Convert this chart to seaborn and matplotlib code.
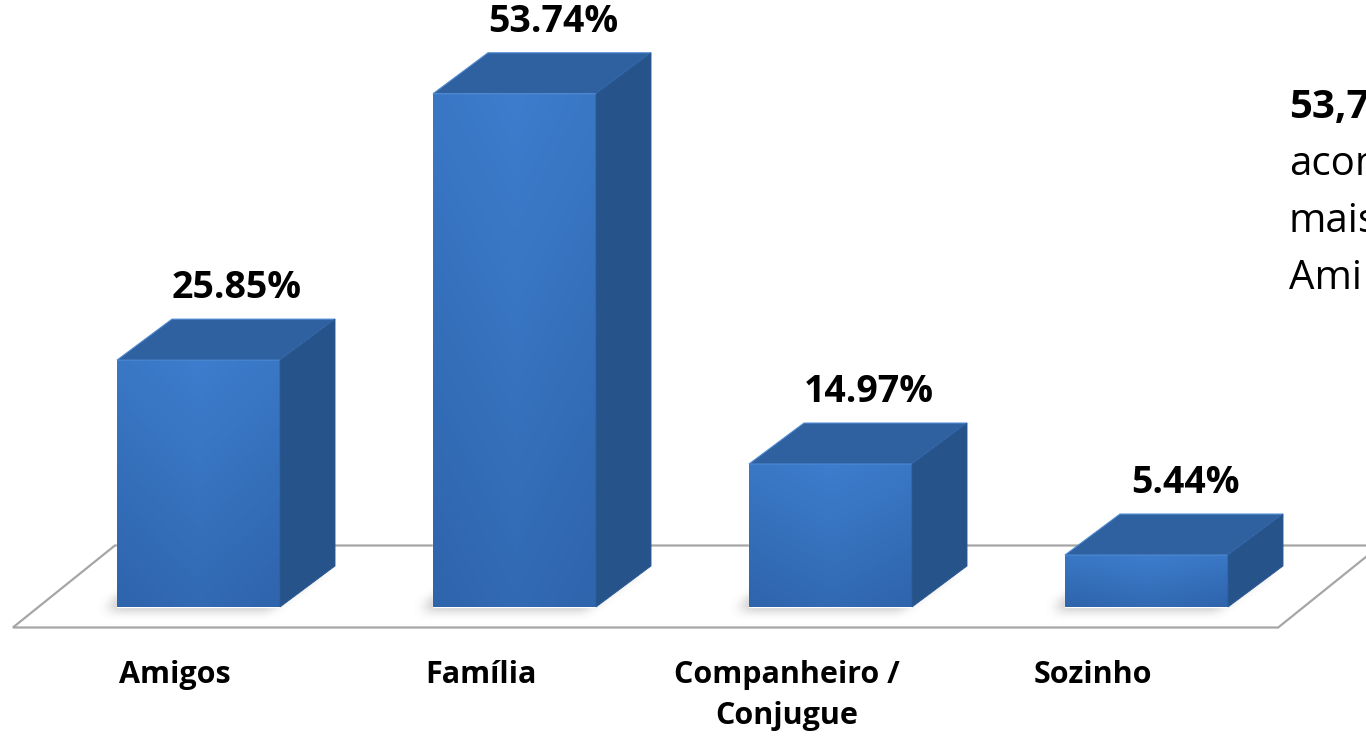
import numpy as np
import pandas as pd
import matplotlib
matplotlib.use('Agg')
import matplotlib.pyplot as plt
import seaborn as sns
from matplotlib.patches import Polygon
from matplotlib.colors import LinearSegmentedColormap

## Data ##
categories = ['Amigos', 'Família', 'Companheiro /\nConjugue', 'Sozinho']
values = [25.85, 53.74, 14.97, 5.44]
value_labels = ['25.85%', '53.74%', '14.97%', '5.44%']
side_lines = ['53,7', 'acom', 'mais', 'Ami']

df = pd.DataFrame({'cat': categories, 'val': values})

sns.set_style('white')
plt.rcParams['font.family'] = ['Open Sans', 'DejaVu Sans']

fig = plt.figure(figsize=(13.66, 7.4), dpi=100)
ax = fig.add_axes([0, 0, 1, 1])

sns.barplot(data=df, x='cat', y='val', color='#3571bd', width=0.516,
            saturation=1, ax=ax, zorder=3)

# pixel -> data scales (316 px per category, 9.55 px per unit)
px_x = 1 / 316
px_y = 1 / 9.55
dx, dy = 55 * px_x, 41 * px_y          # depth of each bar
fdx, fdy = 102 * px_x, 82 * px_y       # depth of floor

bars = list(ax.patches)


def box_blur(a, r):
    # simple separable box blur, done twice
    for _ in range(2):
        for axis in (0, 1):
            c = np.cumsum(np.pad(a, [(r + 1, r) if i == axis else (0, 0) for i in range(2)]), axis=axis)
            if axis == 0:
                a = (c[2 * r + 1:] - c[:-2 * r - 1]) / (2 * r + 1)
            else:
                a = (c[:, 2 * r + 1:] - c[:, :-2 * r - 1]) / (2 * r + 1)
    return a


# floor plane
left = bars[0].get_x() - 0.255
right = bars[-1].get_x() + bars[-1].get_width() + 0.233
fy0 = -(fdy - dy) / 2
fx0 = -(fdx - dx) / 2
floor = Polygon([(left + fx0, fy0), (right + fx0, fy0),
                 (right + fx0 + fdx, fy0 + fdy), (left + fx0 + fdx, fy0 + fdy)],
                closed=True, facecolor='white', edgecolor='#a6a6a6', lw=1.6, zorder=1)
ax.add_patch(floor)

cmap = LinearSegmentedColormap.from_list('front', ['#3d7dcd', '#2f65ad'])
hgrad = np.linspace(0, 1, 128)
grad = np.linspace(0, 1, 256)[:, None] * 0.8 + (np.abs(hgrad - 0.5) * 0.5)[None, :]

for bar, lab in zip(bars, value_labels):
    x0, w, h = bar.get_x(), bar.get_width(), bar.get_height()

    # soft shadow: blurred footprint shifted to the left
    mx, my = 40 * px_x, 22 * px_y
    ex = [x0 - mx, x0 + w + dx + mx]
    ey = [-my, dy + my]
    nx = int(round((ex[1] - ex[0]) / px_x))
    ny = int(round((ey[1] - ey[0]) / px_y))
    X, Y = np.meshgrid(np.linspace(ex[0], ex[1], nx), np.linspace(ey[1], ey[0], ny))
    sx, sy = -12 * px_x, -2 * px_y
    Xs, Ys = X - sx, Y - sy
    inside = ((Ys >= 0) & (Ys <= dy) &
              (Xs >= x0 + Ys / dy * dx) & (Xs <= x0 + w + Ys / dy * dx)).astype(float)
    alpha = box_blur(inside, 6) * 0.55
    rgba = np.zeros((ny, nx, 4))
    rgba[..., :3] = 0.45
    rgba[..., 3] = alpha
    ax.imshow(rgba, extent=[ex[0], ex[1], ey[0], ey[1]], aspect='auto', zorder=2,
              interpolation='bilinear')

    # front face gradient
    im = ax.imshow(grad, extent=[x0, x0 + w, 0, h], cmap=cmap, aspect='auto',
                   origin='upper', zorder=3.1, vmin=0, vmax=1)
    im.set_clip_path(bar)
    # top face
    top = Polygon([(x0, h), (x0 + dx, h + dy), (x0 + w + dx, h + dy), (x0 + w, h)],
                  closed=True, facecolor='#2f60a0', edgecolor='#4f8ad2', lw=0.8, zorder=3.2)
    ax.add_patch(top)
    # side face
    side = Polygon([(x0 + w, 0), (x0 + w + dx, dy), (x0 + w + dx, h + dy), (x0 + w, h)],
                   closed=True, facecolor='#27538b', edgecolor='#2a5a96', lw=0.6, zorder=3.2)
    ax.add_patch(side)
    # value label
    ax.text(x0 + w / 2 + 0.7 * dx, h + dy + 21 * px_y, lab, ha='center', va='baseline',
            fontsize=27, fontweight='bold', color='black', zorder=5)

# category labels under the floor
for i, cat in enumerate(categories):
    ax.text(-0.075 + 0.968 * i, -5.6, cat, ha='center', va='top', fontsize=22,
            fontweight='bold', color='black', linespacing=1.45)

# side note (cut at the right edge, as in the source)
for j, line in enumerate(side_lines):
    ax.text(3.45, 51.2 - j * 57 * px_y, line, ha='left', va='baseline', fontsize=29,
            fontweight='bold' if j == 0 else 'normal', color='black')

ax.set_xlim(-198.5 * px_x, (1366 - 198.5) * px_x)
ax.set_ylim(-133 * px_y, 607 * px_y)
ax.axis('off')

fig.savefig('out.png', dpi=100, facecolor='white')
